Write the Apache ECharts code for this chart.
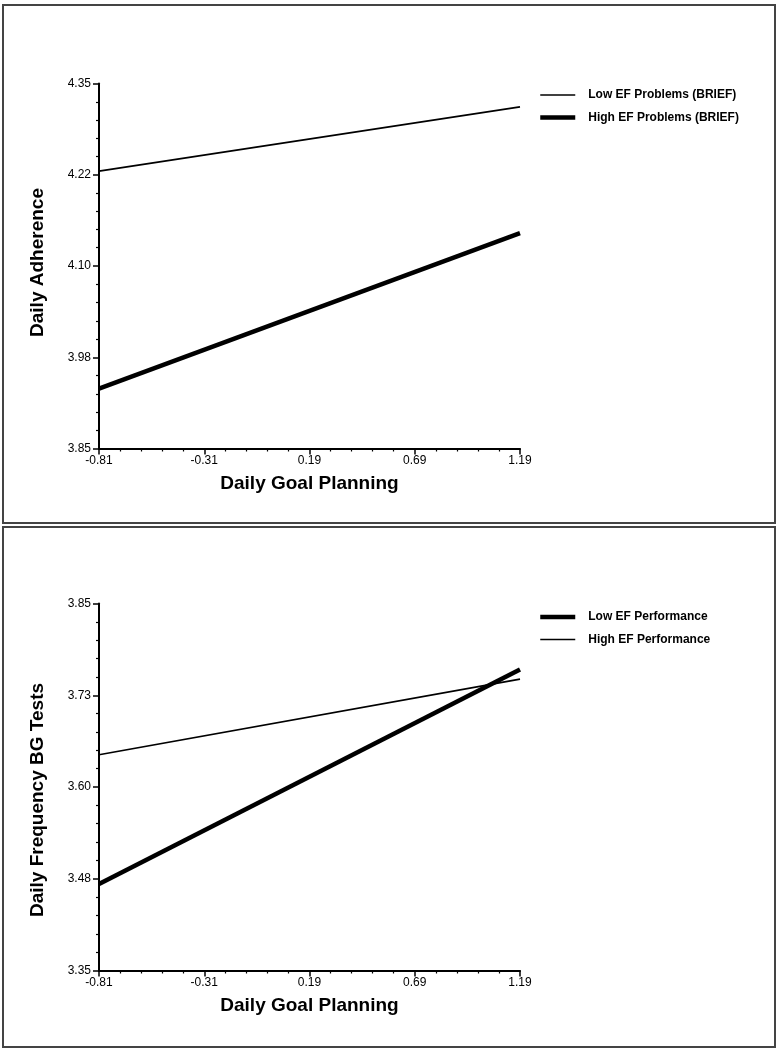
<!DOCTYPE html>
<html>
<head>
<meta charset="utf-8">
<script src="https://cdn.jsdelivr.net/npm/echarts@6/dist/echarts.min.js"></script>
<style>
html,body{margin:0;padding:0;background:#fff;}
#chart{width:779px;height:1050px;}
</style>
</head>
<body>
<div id="chart"></div>
<script>
// ---- data ----
const xValues = [-0.81, 1.19];
const xTickLabels = ['-0.81', '-0.31', '0.19', '0.69', '1.19'];

const adhTickLabels = ['3.85', '3.98', '4.10', '4.22', '4.35'];
const adhLowEFProblems = [4.230, 4.318];
const adhHighEFProblems = [3.932, 4.145];

const bgTickLabels = ['3.35', '3.48', '3.60', '3.73', '3.85'];
const bgLowEFPerformance = [3.468, 3.760];
const bgHighEFPerformance = [3.644, 3.747];

// axis bases (axes are expressed as offsets from their minimum so ticks start at the minimum)
const X_MIN = -0.81, X_SPAN = 2.0, X_STEP = 0.5;
const ADH_MIN = 3.85, BG_MIN = 3.35, Y_SPAN = 0.5, Y_STEP = 0.125;

function pts(ys, yMin) {
  return xValues.map((x, i) => [+(x - X_MIN).toFixed(4), +(ys[i] - yMin).toFixed(4)]);
}

const FONT = '"Liberation Sans", Arial, sans-serif';
const THIN = 1.6, THICK = 4.5;
const chart = echarts.init(document.getElementById('chart'), null, {renderer: 'canvas'});

function xAxisCfg(gridIndex) {
  return {
    type: 'value', gridIndex: gridIndex, min: 0, max: X_SPAN, interval: X_STEP,
    name: 'Daily Goal Planning', nameLocation: 'middle', nameGap: 26,
    nameTextStyle: {fontFamily: FONT, fontWeight: 'bold', fontSize: 19, color: '#000'},
    axisLine: {show: true, onZero: false, lineStyle: {color: '#000', width: 2}},
    axisTick: {show: true, length: 6, lineStyle: {color: '#000', width: 1.5}},
    minorTick: {show: true, splitNumber: 5, length: 3, lineStyle: {color: '#000', width: 1.2}},
    axisLabel: {margin: 6, fontFamily: FONT, fontSize: 12, color: '#000',
      formatter: (v) => xTickLabels[Math.round(v / X_STEP)]},
    splitLine: {show: false}, minorSplitLine: {show: false}
  };
}
function yAxisCfg(gridIndex, name, labels, namePad) {
  return {
    type: 'value', gridIndex: gridIndex, min: 0, max: Y_SPAN, interval: Y_STEP,
    name: name, nameLocation: 'middle', nameGap: 52,
    nameTextStyle: {fontFamily: FONT, fontWeight: 'bold', fontSize: 19, color: '#000', padding: namePad},
    axisLine: {show: true, onZero: false, lineStyle: {color: '#000', width: 2}},
    axisTick: {show: true, length: 6, lineStyle: {color: '#000', width: 1.5}},
    minorTick: {show: true, splitNumber: 5, length: 3, lineStyle: {color: '#000', width: 1.2}},
    axisLabel: {margin: 8, fontFamily: FONT, fontSize: 12, color: '#000',
      formatter: (v) => labels[Math.round(v / Y_STEP)]},
    splitLine: {show: false}, minorSplitLine: {show: false}
  };
}
function lineSeries(name, data, width, xi) {
  return {
    name: name, type: 'line', xAxisIndex: xi, yAxisIndex: xi, data: data,
    symbol: 'none', showSymbol: false, silent: true, animation: false,
    lineStyle: {color: '#000', width: width}, itemStyle: {color: '#000'}
  };
}
function legendCfg(top, names, widths) {
  return {
    orient: 'vertical', left: 533, top: top, itemWidth: 35, itemHeight: 14, itemGap: 10.5,
    textStyle: {fontFamily: FONT, fontWeight: 'bold', fontSize: 12, color: '#000', padding: [0, 0, 0, 8]},
    itemStyle: {opacity: 0, color: 'rgba(0,0,0,0)', borderWidth: 0},
    selectedMode: false,
    data: names.map((n, i) => ({name: n, lineStyle: {color: '#000', width: widths[i]}, itemStyle: {opacity: 0, color: 'rgba(0,0,0,0)', borderWidth: 0}}))
  };
}

chart.setOption({
  animation: false,
  backgroundColor: '#fff',
  graphic: [
    {type: 'rect', shape: {x: 3, y: 5, width: 772, height: 518}, style: {fill: 'none', stroke: '#444', lineWidth: 2}, silent: true},
    {type: 'rect', shape: {x: 3, y: 527, width: 772, height: 520}, style: {fill: 'none', stroke: '#444', lineWidth: 2}, silent: true}
  ],
  legend: [
    legendCfg(84, ['Low EF Problems (BRIEF)', 'High EF Problems (BRIEF)'], [THIN, THICK]),
    legendCfg(606, ['Low EF Performance', 'High EF Performance'], [THICK, THIN])
  ],
  grid: [
    {left: 99, top: 83.5, width: 421, height: 365},
    {left: 99, top: 603.5, width: 421, height: 367}
  ],
  xAxis: [xAxisCfg(0), xAxisCfg(1)],
  yAxis: [yAxisCfg(0, 'Daily Adherence', adhTickLabels, [0, 0, 0, 7]), yAxisCfg(1, 'Daily Frequency BG Tests', bgTickLabels, [0, 26, 0, 0])],
  series: [
    lineSeries('Low EF Problems (BRIEF)', pts(adhLowEFProblems, ADH_MIN), THIN, 0),
    lineSeries('High EF Problems (BRIEF)', pts(adhHighEFProblems, ADH_MIN), THICK, 0),
    lineSeries('Low EF Performance', pts(bgLowEFPerformance, BG_MIN), THICK, 1),
    lineSeries('High EF Performance', pts(bgHighEFPerformance, BG_MIN), THIN, 1)
  ]
});
</script>
</body>
</html>
